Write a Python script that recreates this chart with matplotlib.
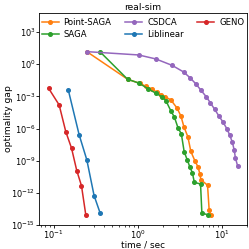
import matplotlib
matplotlib.use('Agg')
import matplotlib.pyplot as plt


# time / sec and optimality gap
point_saga_t = [0.249, 0.760, 1.065, 1.256, 1.479, 1.698, 1.920, 2.143, 2.49,
                2.94, 3.28, 3.56, 3.97, 4.31, 4.81, 5.22, 5.52, 5.67, 6.81,
                7.12, 7.46]
point_saga_gap = [14.9, 0.040, 0.0163, 8.6e-3, 5.0e-3, 2.4e-3, 1.4e-3, 9.0e-4,
                  4.7e-4, 8.5e-5, 1.5e-5, 1.5e-6, 1.7e-7, 7.3e-9, 1.0e-9,
                  2.8e-10, 6.2e-11, 1.7e-11, 5.2e-12, 2.4e-14, 9.4e-15]

saga_t = [0.356, 0.760, 1.045, 1.337, 1.651, 1.931, 2.17, 2.49, 2.74, 3.04,
          3.32, 3.59, 3.92, 4.19, 4.49, 4.74, 5.62, 5.83, 6.81]
saga_gap = [14.9, 0.040, 0.017, 5.0e-3, 2.0e-3, 9.6e-4, 4.1e-4, 4.5e-5,
            1.2e-5, 1.1e-6, 3.2e-7, 6.8e-9, 1.1e-9, 2.7e-10, 7.6e-11,
            9.8e-12, 6.7e-12, 1.3e-14, 9.4e-15]

csdca_t = [0.249, 1.03, 1.65, 2.58, 3.53, 4.23, 4.94, 5.71, 6.59, 7.36, 8.28,
           9.29, 10.45, 11.57, 12.55, 13.44, 14.13, 14.6, 15.5]
csdca_gap = [14.9, 7.3, 3.1, 0.78, 0.19, 0.053, 0.0147, 3.6e-3, 9e-4, 2.5e-4,
             6.2e-5, 1.5e-5, 3.8e-6, 9.5e-7, 2.3e-7, 5.2e-8, 1.05e-8, 1.9e-9,
             3.4e-10]

liblinear_t = [0.150, 0.2018, 0.249, 0.304, 0.359]
liblinear_gap = [3.8e-3, 2.6e-7, 1.2e-9, 5.5e-13, 1.3e-14]

geno_t = [0.0872, 0.1166, 0.140, 0.1637, 0.189, 0.215, 0.242]
geno_gap = [5.8e-3, 1.6e-4, 5e-7, 1.5e-8, 1.2e-10, 4.7e-12, 9e-15]

series = [('Point-SAGA', point_saga_t, point_saga_gap, '#ff7f0e'),
          ('SAGA', saga_t, saga_gap, '#2ca02c'),
          ('CSDCA', csdca_t, csdca_gap, '#9467bd'),
          ('Liblinear', liblinear_t, liblinear_gap, '#1f77b4'),
          ('GENO', geno_t, geno_gap, '#d62728')]

fs = 6.6

fig = plt.figure(figsize=(2.49, 2.49), dpi=100)
ax = fig.add_axes([0.157, 0.096, 0.835, 0.852])

for name, t, gap, color in series:
    ax.plot(t, gap, marker='o', markersize=2.6, linewidth=1.1,
            color=color, label=name)

ax.set_xscale('log')
ax.set_yscale('log')
ax.set_ylim(1e-15, 10 ** 4.78)
ax.set_yticks([1e-15, 1e-12, 1e-9, 1e-6, 1e-3, 1e0, 1e3])
ax.tick_params(labelsize=5.9, length=2.2, width=0.6, pad=0.6)
ax.tick_params(which='minor', length=1.4, width=0.5)
ax.set_xlabel('time / sec', fontsize=6.4)
ax.set_ylabel('optimality gap', fontsize=fs)
ax.xaxis.set_label_coords(0.5, -0.071)
ax.yaxis.set_label_coords(-0.125, 0.5)
ax.set_title('real-sim', fontsize=fs, pad=2)
for s in ax.spines.values():
    s.set_linewidth(0.6)

ax.legend(loc='upper center', ncol=3, fontsize=6.1, frameon=False,
          handlelength=2.0, columnspacing=1.6, handletextpad=0.6,
          borderaxespad=0.2, labelspacing=0.3)

fig.savefig('out.png', dpi=100)
